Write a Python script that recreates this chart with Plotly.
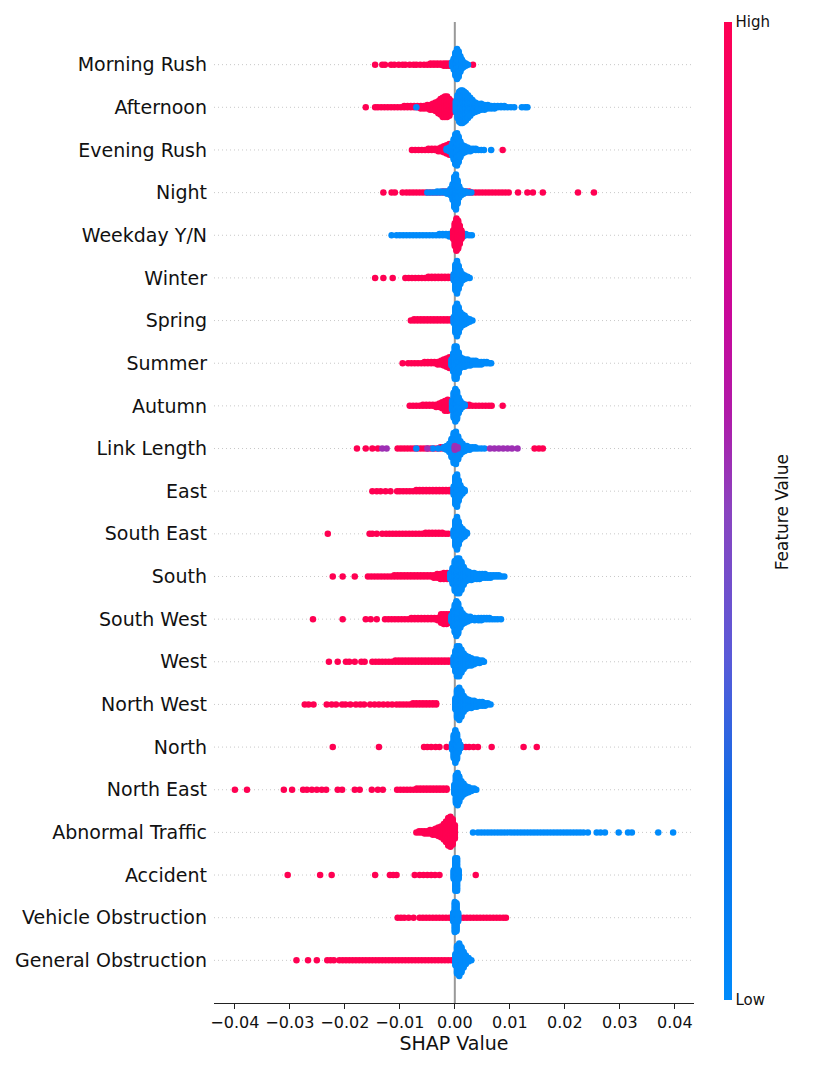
import plotly.graph_objects as go

# feature names, top row first
features = ["Morning Rush", "Afternoon", "Evening Rush", "Night", "Weekday Y/N",
            "Winter", "Spring", "Summer", "Autumn", "Link Length", "East",
            "South East", "South", "South West", "West", "North West", "North",
            "North East", "Abnormal Traffic", "Accident", "Vehicle Obstruction",
            "General Obstruction"]

# SHAP values, in thousandths: (value, points stacked there)
mr_high = [(-14.5,1),(-13.2,1),(-12.7,1),(-11.6,1),(-11,1),(-10.2,1),(-9.5,1),(-9,1),(-8.2,1),(-7.5,1),(-7,1),(-6.3,1),(-5.6,1),(-5,1),(-4.4,2),(-3.8,2),(-3.2,2),(-2.6,2),(-2,3),(-1.5,3),(-1,3),(-0.5,3),(3.3,1)]
mr_low = [(-0.5,4),(-0.2,10),(0.1,20),(0.4,26),(0.7,22),(1,14),(1.3,8),(1.6,5),(2,3),(2.4,1)]

af_high = [(-16.2,1),(-14.5,1),(-14,1),(-13.4,1),(-12.8,1),(-12.2,1),(-11.6,1),(-11,1),(-10.4,1),(-9.8,1),(-9.2,2),(-8.6,2),(-8,2),(-7.4,2),(-6.8,2),(-6.2,3),(-5.6,3),(-5,4),(-4.5,5),(-4,6),(-3.5,8),(-3,11),(-2.6,14),(-2.2,17),(-1.8,18),(-1.4,18),(-1,15),(-0.6,10),(-0.3,6)]
af_low = [(-7,1),(0.2,10),(0.5,20),(0.8,26),(1.1,28),(1.4,28),(1.7,26),(2,24),(2.4,20),(2.8,16),(3.2,12),(3.7,9),(4.2,7),(4.8,6),(5.4,5),(6,4),(6.6,3),(7.2,3),(7.8,2),(8.4,2),(9,2),(9.6,1),(10.2,1),(10.8,1),(12.2,1),(12.8,1),(13.2,1)]

er_high = [(-7.8,1),(-7.2,1),(-6.6,1),(-6,1),(-5.4,1),(-4.8,2),(-4.2,2),(-3.6,2),(-3,3),(-2.5,4),(-2,6),(-1.5,8),(-1,10),(-0.5,8),(0,6),(0.5,4),(1,3),(1.5,2),(2,2),(2.5,1),(3,1),(8.7,1)]
er_low = [(-1.5,2),(-1,4),(-0.5,10),(-0.2,18),(0.1,26),(0.4,28),(0.7,22),(1,14),(1.4,8),(1.8,6),(2.3,4),(2.8,3),(3.3,2),(3.8,2),(4.3,1),(4.8,1),(5.3,1),(6.6,1)]

ni_high = [(-13,1),(-11.5,1),(-10.9,1),(-9.5,1),(-8.8,1),(-8.2,1),(-7.6,1),(-7,1),(-6.4,1),(-5.8,1),(-5.2,1),(-4.6,1),(-4,1),(-3.4,1),(-2.8,1),(-2.2,2),(-1.6,2),(-1,2),(-0.4,2),(0.2,2),(0.8,2),(1.4,2),(2,2),(2.6,2),(3.2,1),(3.8,1),(4.4,1),(5,1),(5.6,1),(6.2,1),(6.8,1),(7.4,1),(8,1),(8.6,1),(9.2,1),(9.8,1),(11.5,1),(13.2,1),(14.2,1),(16,1),(22.4,1),(25.3,1)]
ni_low = [(-5,1),(-4.4,1),(-3.8,1),(-3.2,2),(-2.6,2),(-2,2),(-1.4,3),(-0.8,6),(-0.4,14),(-0.1,26),(0.2,30),(0.5,20),(0.8,10),(1.2,5),(1.6,3),(2,2),(2.5,1),(3,1)]

wd_high = [(-0.3,8),(0,20),(0.3,28),(0.6,24),(0.9,16),(1.2,8)]
wd_low = [(-11.5,1),(-10.6,1),(-10,1),(-9.4,1),(-8.8,1),(-8.2,1),(-7.6,1),(-7,1),(-6.4,1),(-5.8,1),(-5.2,1),(-4.6,1),(-4,1),(-3.4,1),(-2.8,2),(-2.2,2),(-1.6,2),(-1,3),(-0.5,3),(1.5,3),(2,2),(2.6,1),(3.1,1)]

wi_high = [(-14.5,1),(-13,1),(-11.3,1),(-9,1),(-8.4,1),(-7.8,1),(-7.2,1),(-6.6,1),(-6,1),(-5.4,1),(-4.8,2),(-4.2,2),(-3.6,2),(-3,2),(-2.4,2),(-1.8,2),(-1.2,2),(-0.6,2)]
wi_low = [(-0.2,6),(0.1,22),(0.4,28),(0.7,20),(1,12),(1.4,6),(1.8,4),(2.3,2),(2.7,1)]

sp_high = [(-8,1),(-7.4,2),(-6.8,2),(-6.2,2),(-5.6,2),(-5,2),(-4.4,2),(-3.8,2),(-3.2,2),(-2.6,2),(-2,2),(-1.4,2),(-0.8,2)]
sp_low = [(-0.2,6),(0.1,22),(0.4,28),(0.7,22),(1,14),(1.4,10),(1.8,8),(2.2,5),(2.7,3),(3.2,1)]

su_high = [(-9.5,1),(-8.5,1),(-7.9,1),(-7.3,1),(-6.7,1),(-6.1,1),(-5.5,2),(-4.9,2),(-4.3,2),(-3.7,2),(-3.1,3),(-2.5,4),(-2,6),(-1.5,8),(-1,10),(-0.5,8)]
su_low = [(-0.6,6),(-0.3,16),(0,28),(0.3,28),(0.7,18),(1,10),(1.4,8),(1.8,7),(2.3,6),(2.8,5),(3.3,4),(3.8,4),(4.3,3),(4.8,3),(5.3,2),(5.8,2),(6.3,1),(6.6,1)]

au_high = [(-8.2,1),(-7.6,1),(-7,1),(-6.4,1),(-5.8,2),(-5.2,2),(-4.6,2),(-4,2),(-3.4,3),(-2.8,4),(-2.3,6),(-1.8,9),(-1.3,10),(-0.8,8),(2,2),(2.6,2),(3.2,1),(3.8,1),(4.4,1),(5,1),(5.6,1),(6.2,1),(6.7,1),(8.7,1)]
au_low = [(-0.5,8),(-0.2,22),(0.1,28),(0.4,24),(0.7,14),(1,8),(1.4,4),(1.8,2)]

ll_high = [(-17.8,1),(-16.2,1),(-15,1),(-14,1),(-10.4,1),(-9.8,1),(-9.2,1),(-8.6,1),(-8,1),(-7.4,1),(-6.8,1),(-6.2,1),(-5.6,1),(-5,1),(-4.4,1),(-3.8,1),(-3.2,1),(-2.6,2),(-2,2),(-1.4,2),(14.5,1),(15.3,1),(16,1)]
ll_low = [(-7,1),(-4,1),(-3,1),(-2,2),(-1.5,4),(-1,8),(-0.6,16),(-0.2,26),(0.2,28),(0.6,20),(1,12),(1.4,8),(1.8,5),(2.2,4),(2.7,3),(3.2,2),(3.7,2),(4.2,1),(4.8,1),(5.4,1)]
ll_mid = [(-13.2,1),(-12.4,1),(-5,1),(0,4),(0.5,2),(6.4,1),(7.2,1),(8,1),(8.8,1),(9.6,1),(10.4,1),(11.4,1)]

ea_high = [(-15,1),(-14.2,1),(-13.5,1),(-12.6,1),(-11.7,1),(-10.5,1),(-10,1),(-9.4,1),(-8.8,1),(-8.2,1),(-7.6,1),(-7,2),(-6.4,2),(-5.8,2),(-5.2,2),(-4.6,2),(-4,2),(-3.4,2),(-2.8,2),(-2.2,2),(-1.6,2),(-1,2),(-0.5,2)]
ea_low = [(-0.2,8),(0.1,24),(0.4,28),(0.7,18),(1,10),(1.4,5),(1.8,2)]

se_high = [(-23.1,1),(-15.5,1),(-15,1),(-14.2,1),(-13.2,1),(-12.5,1),(-11.9,1),(-11.3,1),(-10.7,1),(-10.1,1),(-9.5,1),(-8.9,1),(-8.3,1),(-7.7,1),(-7.1,1),(-6.5,1),(-5.9,1),(-5.3,2),(-4.7,2),(-4.1,2),(-3.5,2),(-2.9,2),(-2.3,2),(-1.7,1),(-1.2,1)]
se_low = [(-0.2,6),(0.1,22),(0.4,28),(0.7,20),(1,12),(1.4,8),(1.8,5),(2.2,2)]

so_high = [(-22.2,1),(-20.4,1),(-18.2,1),(-15.8,1),(-15.2,1),(-14.6,1),(-14,1),(-13.4,1),(-12.8,1),(-12.2,1),(-11.6,1),(-11,2),(-10.4,2),(-9.8,2),(-9.2,2),(-8.6,2),(-8,2),(-7.4,2),(-6.8,2),(-6.2,2),(-5.6,2),(-5,2),(-4.4,2),(-3.8,3),(-3.2,4),(-2.6,5),(-2,6),(-1.4,6),(-0.8,6)]
so_low = [(-0.8,6),(-0.4,14),(0,26),(0.4,30),(0.8,30),(1.2,24),(1.6,16),(2,10),(2.5,8),(3,7),(3.5,6),(4,5),(4.5,5),(5,4),(5.5,4),(6,3),(6.5,3),(7,2),(7.5,2),(8,2),(8.5,1),(9,1)]

sw_high = [(-25.8,1),(-20.4,1),(-16.2,1),(-15.3,1),(-14.2,1),(-12.7,1),(-12.1,1),(-11.5,1),(-10.9,1),(-10.3,1),(-9.7,1),(-9.1,1),(-8.5,1),(-7.9,2),(-7.3,2),(-6.7,2),(-6.1,2),(-5.5,2),(-4.9,2),(-4.3,2),(-3.7,2),(-3.1,3),(-2.5,8),(-2,9),(-1.5,9),(-1,8),(3.3,1)]
sw_low = [(-0.6,6),(-0.3,14),(0,24),(0.3,30),(0.6,26),(1,16),(1.4,10),(1.8,7),(2.3,5),(2.8,4),(3.6,3),(4.3,3),(4.8,3),(5.3,2),(5.8,2),(6.3,2),(6.8,1),(7.3,1),(7.8,1),(8.4,1)]

we_high = [(-22.9,1),(-21.3,1),(-19.8,1),(-19.2,1),(-18.2,1),(-17,1),(-16.4,1),(-15,1),(-14.4,1),(-13.8,1),(-13.2,1),(-12.6,1),(-12,1),(-11.4,1),(-10.8,2),(-10.2,2),(-9.6,2),(-9,2),(-8.4,2),(-7.8,2),(-7.2,2),(-6.6,2),(-6,2),(-5.4,2),(-4.8,2),(-4.2,2),(-3.6,2),(-3,2),(-2.4,2),(-1.8,2),(-1.2,2),(-0.6,2)]
we_low = [(-0.2,8),(0.1,18),(0.4,26),(0.8,26),(1.2,20),(1.6,14),(2,10),(2.5,8),(3,7),(3.5,5),(4,4),(4.5,3),(5,2),(5.3,1)]

nw_high = [(-27.3,1),(-26.6,1),(-25.7,1),(-23.3,1),(-22.4,1),(-21.6,1),(-20.5,1),(-19.9,1),(-19,1),(-18,1),(-17.2,1),(-16.5,1),(-15.4,1),(-14.6,1),(-13.8,1),(-13,1),(-12.2,1),(-11.4,1),(-10.6,1),(-10,1),(-9.4,1),(-8.8,1),(-8.2,1),(-7.6,2),(-7,2),(-6.4,2),(-5.8,2),(-5.2,2),(-4.6,2),(-4,2),(-3.4,2)]
nw_low = [(0.1,10),(0.4,24),(0.8,28),(1.2,22),(1.6,14),(2,10),(2.5,8),(3,7),(3.5,6),(4,5),(4.5,4),(5,4),(5.5,3),(6,2),(6.5,1)]

no_high = [(-22.2,1),(-13.8,1),(-5.6,1),(-5,1),(-4.3,1),(-3.5,1),(-2.8,1),(-1.5,1),(0,2),(1.3,1),(2,1),(2.6,1),(3.4,1),(4.2,1),(6.7,1),(12.5,1),(14.9,1)]
no_low = [(-0.5,6),(-0.2,20),(0.1,28),(0.4,22),(0.7,10),(1,4)]

ne_high = [(-40,1),(-37.8,1),(-31.1,1),(-29.6,1),(-27.6,1),(-26.9,1),(-26,1),(-25.1,1),(-24.2,1),(-23.4,1),(-21.3,1),(-20.5,1),(-18.2,1),(-17.3,1),(-15.1,1),(-14,1),(-13.1,1),(-10.5,1),(-9.9,1),(-9.3,1),(-8.7,1),(-8.1,1),(-7.5,1),(-6.9,2),(-6.3,2),(-5.7,2),(-5.1,2),(-4.5,2),(-3.9,2),(-3.3,2),(-2.7,2),(-2.1,2),(-1.5,2)]
ne_low = [(-0.1,8),(0.2,24),(0.5,28),(0.8,22),(1.2,14),(1.6,10),(2,7),(2.5,5),(3,3),(3.5,2),(3.9,1)]

ab_high = [(-7,1),(-6.5,2),(-6,2),(-5.5,3),(-5,3),(-4.5,4),(-4,5),(-3.5,6),(-3,8),(-2.5,10),(-2,14),(-1.6,18),(-1.2,24),(-0.8,26),(-0.4,22),(0,12)]
ab_low = [(3.3,1),(4.2,1),(4.8,1),(5.4,1),(6,1),(6.6,1),(7.2,1),(7.8,1),(8.4,1),(9,1),(9.6,1),(10.2,1),(10.8,1),(11.4,1),(12,1),(12.6,1),(13.2,1),(13.8,1),(14.4,1),(15,1),(15.6,1),(16.2,1),(16.8,1),(17.4,1),(18,1),(18.6,1),(19.2,1),(19.8,1),(20.4,1),(21,1),(21.6,1),(22.2,1),(22.8,1),(23.4,1),(24.2,1),(25.8,1),(26.5,1),(27.3,1),(29.8,1),(31.5,1),(32.2,1),(37,1),(39.7,1)]

ac_high = [(-30.4,1),(-24.5,1),(-22.4,1),(-14.5,1),(-11.8,1),(-11.2,1),(-10.6,1),(-7.3,1),(-6.4,1),(-5.7,1),(-5,1),(-4.3,1),(-3.6,1),(-2.8,1),(3.8,1)]
ac_low = [(-0.2,8),(0.1,28),(0.4,28),(0.7,8)]

vo_high = [(-10.4,1),(-9.8,1),(-9.2,1),(-8.4,1),(-7.5,1),(-6.4,1),(-5.8,1),(-5.2,1),(-4.6,1),(-4,1),(-3.4,1),(-2.8,1),(-2.2,1),(-1.6,1),(-1,1),(1,1),(1.6,1),(2.2,1),(2.8,1),(3.4,1),(4,1),(4.6,1),(5.2,1),(5.8,1),(6.4,1),(7,1),(7.6,1),(8.2,1),(8.8,1),(9.3,1)]
vo_low = [(-0.3,8),(0,26),(0.3,24),(0.6,8)]

go_high = [(-28.8,1),(-26.7,1),(-25.1,1),(-23.2,1),(-22.6,1),(-22,1),(-21,1),(-20.4,1),(-19.8,1),(-19.2,1),(-18.6,1),(-18,1),(-17.4,1),(-16.8,1),(-16.2,1),(-15.6,1),(-15,1),(-14.4,1),(-13.8,1),(-13.2,1),(-12.6,1),(-12,1),(-11.4,1),(-10.8,1),(-10.2,1),(-9.6,1),(-9,1),(-8.4,1),(-7.8,1),(-7.2,1),(-6.6,1),(-6,1),(-5.4,1),(-4.8,1),(-4.2,1),(-3.6,1),(-3,1),(-2.4,1),(-1.8,1),(-1.2,1),(-0.6,1)]
go_low = [(0.1,10),(0.4,24),(0.8,28),(1.2,22),(1.6,14),(2,8),(2.5,4),(3,1)]

highs = [mr_high, af_high, er_high, ni_high, wd_high, wi_high, sp_high, su_high, au_high, ll_high, ea_high,
         se_high, so_high, sw_high, we_high, nw_high, no_high, ne_high, ab_high, ac_high, vo_high, go_high]
lows = [mr_low, af_low, er_low, ni_low, wd_low, wi_low, sp_low, su_low, au_low, ll_low, ea_low,
        se_low, so_low, sw_low, we_low, nw_low, no_low, ne_low, ab_low, ac_low, vo_low, go_low]
mids = {"Link Length": ll_mid}

DY = 1.2 / 42.67  # vertical step of the swarm, in row units

def stack(pts, fv, row):
    xs, ys, cs = [], [], []
    for x, n in pts:
        for k in range(n):
            off = ((k + 1) // 2) * (1 if k % 2 else -1)
            xs.append(x / 1000)
            ys.append(row + off * DY)
            cs.append(fv)
    return xs, ys, cs

n_feat = len(features)
X, Y, C = [], [], []
for i, name in enumerate(features):
    row = n_feat - 1 - i
    groups = [(highs[i], 1.0), (lows[i], 0.0)]
    groups.sort(key=lambda g: max(n for _, n in g[0]))
    if name in mids:
        groups.append((mids[name], 0.55))
    for pts, fv in groups:
        xs, ys, cs = stack(pts, fv, row)
        X += xs
        Y += ys
        C += cs

red_blue = [[0, "#008bfb"], [0.2, "#0a6ee8"], [0.35, "#5a5ad8"], [0.5, "#8a44c0"],
            [0.6, "#b01aa8"], [0.7, "#c8089a"], [0.85, "#e6027a"], [1, "#ff0052"]]

fig = go.Figure()
fig.add_trace(go.Scatter(
    x=X, y=Y, mode="markers", hoverinfo="skip", showlegend=False,
    marker=dict(size=6.5, color=C, colorscale=red_blue, cmin=0, cmax=1, line=dict(width=0),
                colorbar=dict(x=1.0625, xanchor="left", y=1, yanchor="top", len=0.997,
                              xpad=0, ypad=0, thickness=8, outlinewidth=0,
                              tickvals=[0, 1], ticktext=["Low", "High"], ticks="",
                              tickfont=dict(size=15, color="#111111")))))

shapes = []
for r in range(n_feat):
    shapes.append(dict(type="line", xref="paper", yref="y", x0=0, x1=1, y0=r, y1=r,
                       line=dict(color="#c8c8c8", width=1, dash="1px,3px"), layer="below"))
shapes.append(dict(type="line", xref="x", yref="paper", x0=0, x1=0, y0=0, y1=1,
                   line=dict(color="#999999", width=2), layer="below"))

xticks = [-0.04, -0.03, -0.02, -0.01, 0, 0.01, 0.02, 0.03, 0.04]
fig.update_layout(
    width=830, height=1069, plot_bgcolor="white", paper_bgcolor="white",
    # the page body adds 8px on the left and top
    margin=dict(l=206, r=144, t=14, b=74, autoexpand=False),
    font=dict(family="DejaVu Sans", color="#111111"),
    shapes=shapes,
    annotations=[dict(text="Feature Value", textangle=-90, xref="paper", yref="paper",
                      x=1.183, y=0.5, xanchor="center", yanchor="middle", showarrow=False,
                      font=dict(size=17, color="#111111"))],
    xaxis=dict(range=[-0.0438, 0.0435], tickvals=xticks,
               ticktext=[f"{v:.2f}".replace("-", "\u2212") for v in xticks],
               showgrid=False, zeroline=False, showline=True, linecolor="#222222", linewidth=1,
               ticks="outside", ticklen=5, tickcolor="#222222", tickfont=dict(size=16),
               title=dict(text="SHAP Value", font=dict(size=19), standoff=4)),
    yaxis=dict(range=[-1, n_feat], tickvals=list(range(n_feat)), ticktext=features[::-1],
               showgrid=False, zeroline=False, showline=False, ticks="",
               tickfont=dict(size=19), ticklabelstandoff=6),
)

fig.write_html("out.html")
